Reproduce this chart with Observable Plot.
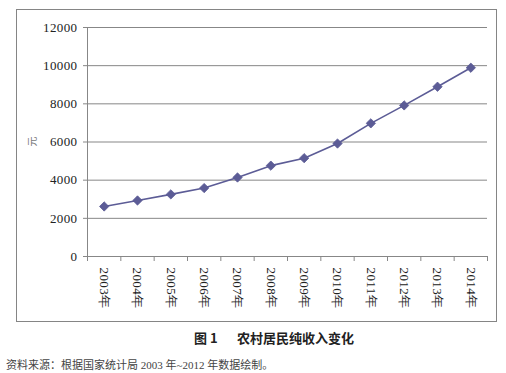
<!DOCTYPE html>
<html><head><meta charset="utf-8">
<script src="https://cdn.jsdelivr.net/npm/d3@7"></script>
<script src="https://cdn.jsdelivr.net/npm/@observablehq/plot@0.6"></script>
<style>
html,body{margin:0;padding:0;background:#fff;}
#page{position:relative;width:506px;height:373px;overflow:hidden;}
#frame{position:absolute;left:16px;top:9px;width:479px;height:311px;border:1.5px solid #858585;}
#chart{position:absolute;left:0;top:0;}
#chart svg text{font-family:"Liberation Serif","Times New Roman","DejaVu Serif",serif !important;letter-spacing:0.4px;}
#ylab{position:absolute;left:26px;top:134px;font:10px "Noto Sans CJK SC";color:#777;transform:rotate(-90deg);}
#title{position:absolute;left:0;width:548px;top:328px;text-align:center;font:bold 13px "Noto Sans CJK SC";color:#222;}
#caption{position:absolute;left:6px;top:356px;font:11px "Liberation Serif","Times New Roman","Noto Sans CJK SC";color:#444;white-space:nowrap;}
</style></head>
<body><div id="page">
<div id="frame"></div>
<div id="chart"></div>
<div id="ylab">元</div>
<div id="title">图 1&emsp;&ensp;农村居民纯收入变化</div>
<div id="caption">资料来源：根据国家统计局 2003 年~2012 年数据绘制。</div>
</div>
<script>
const years = [2003, 2004, 2005, 2006, 2007, 2008, 2009, 2010, 2011, 2012, 2013, 2014];
const yearLabels = ["2003年","2004年","2005年","2006年","2007年","2008年","2009年","2010年","2011年","2012年","2013年","2014年"];
const income = [2622, 2936, 3255, 3587, 4140, 4761, 5153, 5919, 6977, 7917, 8896, 9892];
const yTicks = [0, 2000, 4000, 6000, 8000, 10000, 12000];

const data = years.map((y, i) => ({year: y, value: income[i]}));
const bounds = [years[0] - 0.5, ...years.map(y => y + 0.5)];

const chart = Plot.plot({
  width: 506, height: 330,
  marginLeft: 87, marginRight: 19, marginTop: 27, marginBottom: 74,
  style: {background: "transparent", fontFamily: "Liberation Serif", fontSize: "13px"},
  x: {domain: [bounds[0], bounds[bounds.length - 1]], axis: null, label: null},
  y: {domain: [0, 12000], axis: null, label: null},
  marks: [
    Plot.gridY(yTicks, {stroke: "#878787", strokeOpacity: 1}),
    Plot.ruleX([bounds[0]], {stroke: "#878787"}),
    Plot.ruleY([0], {stroke: "#878787"}),
    Plot.axisY({ticks: yTicks, label: null, tickSize: 4, tickPadding: 6, stroke: "#878787", fill: "#222", fontSize: 13, fontFamily: "Liberation Serif", tickFormat: d => String(d)}),
    Plot.axisX({ticks: bounds, label: null, tickSize: 5, stroke: "#878787", tickFormat: () => ""}),
    Plot.axisX({ticks: years, label: null, tickSize: 0, tickPadding: 11, tickRotate: 90, fill: "#222", fontSize: 13, fontFamily: "Liberation Serif",
      tickFormat: d => yearLabels[years.indexOf(d)]}),
    Plot.line(data, {x: "year", y: "value", stroke: "#5c5c96", strokeWidth: 1.6}),
    Plot.dot(data, {x: "year", y: "value", symbol: "diamond2", r: 4.2, fill: "#5c5c96", stroke: "#5c5c96", strokeWidth: 0.8})
  ]
});
document.getElementById("chart").appendChild(chart);
</script>
</body></html>
